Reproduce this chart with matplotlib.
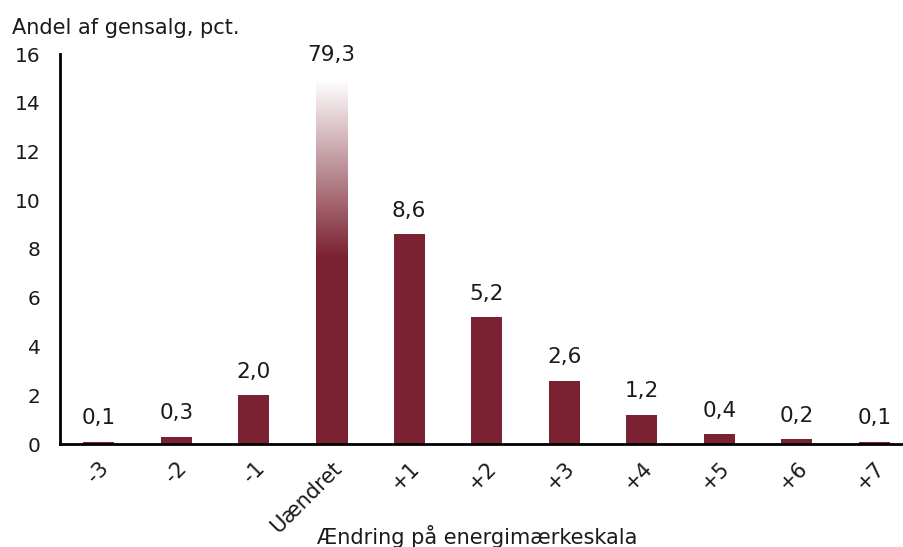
import numpy as np
import matplotlib
matplotlib.use("Agg")
import matplotlib.pyplot as plt
from matplotlib.colors import LinearSegmentedColormap

plt.rcParams['font.family'] = ['DejaVu Sans']

categories = ["-3", "-2", "-1", "Uændret", "+1", "+2", "+3", "+4", "+5", "+6", "+7"]
values = [0.1, 0.3, 2.0, 79.3, 8.6, 5.2, 2.6, 1.2, 0.4, 0.2, 0.1]
y_ticks = [0, 2, 4, 6, 8, 10, 12, 14, 16]

bar_color = "#7A2232"
text_color = "#1a1a1a"
y_max = 16
fade_top = 15.0

fig = plt.figure(figsize=(9.04, 5.47), dpi=100)
ax = fig.add_axes([60 / 904, 1 - 444 / 547, (904 - 60) / 904, (444 - 54) / 547])

x = np.arange(len(categories))
bars = ax.bar(x, values, width=0.4, color=bar_color, zorder=2)

# The off-scale bar fades out towards the top of the axis
big = int(np.argmax(values))
big_bar = bars[big]
big_bar.set_facecolor("none")
fade = LinearSegmentedColormap.from_list(
    "fade", [(0, bar_color), (7.7 / y_max, bar_color), (fade_top / y_max, "white"), (1, "white")])
grad = np.linspace(0, 1, 400).reshape(-1, 1)
x0 = big_bar.get_x()
w = big_bar.get_width()
img = ax.imshow(grad, cmap=fade, aspect="auto", origin="lower",
                extent=[x0, x0 + w, 0, y_max], zorder=2, interpolation="bilinear")
img.set_clip_path(big_bar)

for xi, v in zip(x, values):
    label = f"{v:.1f}".replace(".", ",")
    ypos = (v if v <= y_max else fade_top) + 0.55
    ax.text(xi, ypos, label, ha="center", va="bottom", fontsize=15.5, color=text_color, clip_on=False)

ax.set_xlim(-0.5, 10.38)
ax.set_ylim(0, y_max)
ax.set_yticks(y_ticks)
ax.set_yticklabels([str(t) for t in y_ticks], fontsize=14.5, color=text_color)
ax.set_xticks(x)
ax.set_xticklabels(categories, rotation=45, ha="right", rotation_mode="anchor",
                   fontsize=15, color=text_color)
ax.tick_params(axis="y", length=0, pad=14)
ax.tick_params(axis="x", length=0, pad=10)

ax.spines["top"].set_visible(False)
ax.spines["right"].set_visible(False)
ax.spines["left"].set_linewidth(2)
ax.spines["bottom"].set_linewidth(2)

fig.text(12 / 904, 1 - 28 / 547, "Andel af gensalg, pct.", fontsize=15, va="center", ha="left",
         color=text_color)
fig.text(477 / 904, 1 - 536 / 547, "Ændring på energimærkeskala", fontsize=15, va="center",
         ha="center", color=text_color)

fig.savefig("out.png", dpi=100)
